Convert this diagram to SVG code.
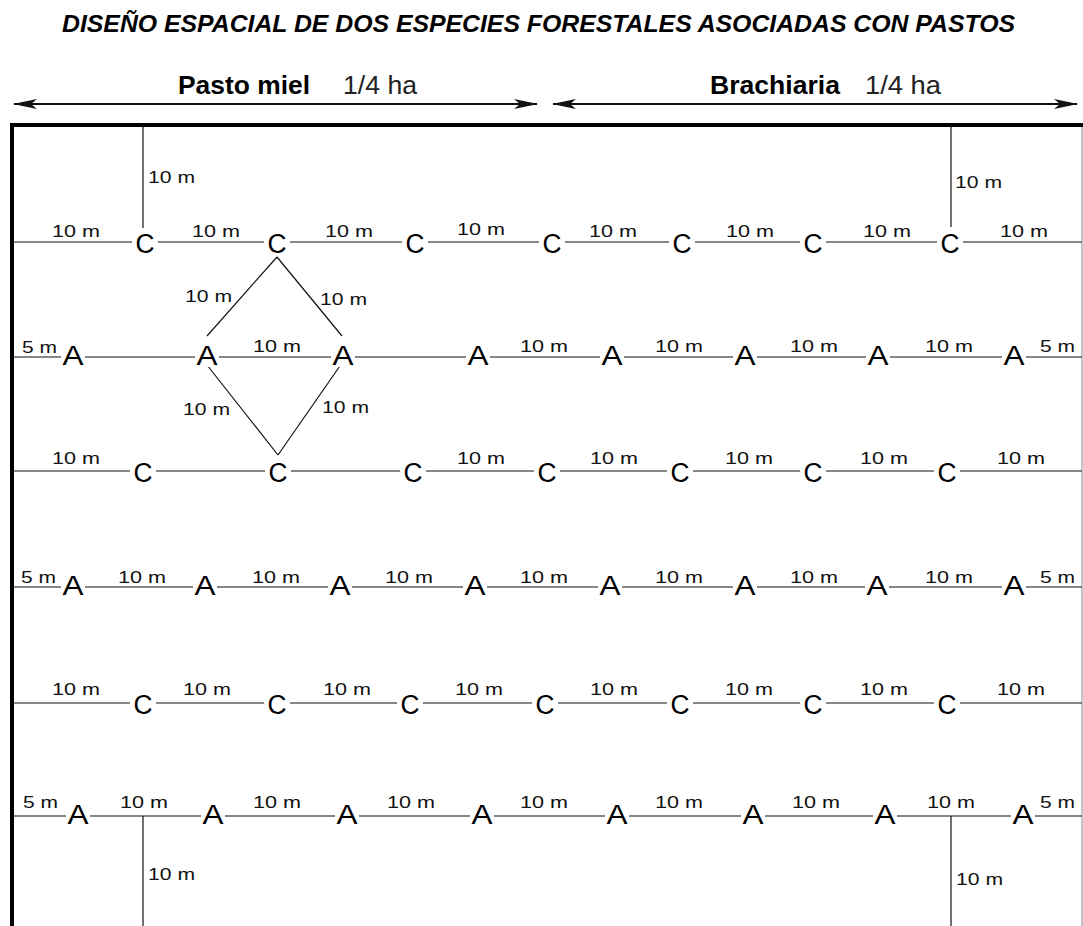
<svg xmlns="http://www.w3.org/2000/svg" width="1083" height="926" viewBox="0 0 1083 926">
<style>
.bg{fill:#fff}
.ln{stroke:#111;stroke-width:1.2;fill:none}
.frame{stroke:#000;stroke-width:4;fill:none}
.rb{stroke:#888;stroke-width:1;fill:none}
.arr{stroke:#111;stroke-width:2;fill:none}
.lbl{font-family:"Liberation Sans",Arial,sans-serif;font-size:16.5px;fill:#111}
.nd{font-family:"Liberation Sans",Arial,sans-serif;font-size:27px;fill:#000;text-anchor:middle}
.title{font-family:"Liberation Sans",Arial,sans-serif;font-size:23.5px;font-weight:bold;font-style:italic;fill:#000}
.hd{font-family:"Liberation Sans",Arial,sans-serif;font-size:25px;font-weight:bold;fill:#000}
.ha{font-family:"Liberation Sans",Arial,sans-serif;font-size:25px;fill:#222}
</style>
<defs>
<marker id="ah" viewBox="0 0 24 12" refX="23" refY="6" markerWidth="24" markerHeight="12" markerUnits="userSpaceOnUse" orient="auto-start-reverse">
<path d="M0,1 L24,6 L0,11 L6,6 Z" fill="#111"/>
</marker>
<rect id="cbg" x="-13" y="-10" width="26" height="20" fill="#fff"/>
<rect id="abg" x="-12" y="-12" width="24" height="22" fill="#fff"/>
</defs>
<rect class="bg" x="0" y="0" width="1083" height="926"/>
<g id="title">
<text class="title" x="62" y="32" textLength="953" lengthAdjust="spacingAndGlyphs">DISEÑO ESPACIAL DE DOS ESPECIES FORESTALES ASOCIADAS CON PASTOS</text>
</g>
<g id="header">
<text class="hd" x="178" y="94" textLength="132" lengthAdjust="spacingAndGlyphs">Pasto miel</text>
<text class="ha" x="343" y="94" textLength="74" lengthAdjust="spacingAndGlyphs">1/4 ha</text>
<text class="hd" x="710" y="94" textLength="130" lengthAdjust="spacingAndGlyphs">Brachiaria</text>
<text class="ha" x="865" y="94" textLength="76" lengthAdjust="spacingAndGlyphs">1/4 ha</text>
<line class="arr" x1="14" y1="104" x2="537" y2="104" marker-start="url(#ah)" marker-end="url(#ah)"/>
<line class="arr" x1="553" y1="104" x2="1077" y2="104" marker-start="url(#ah)" marker-end="url(#ah)"/>
</g>
<g id="frame">
<line class="rb" x1="1082" y1="125" x2="1082" y2="926"/>
<line class="frame" x1="10" y1="125" x2="1083" y2="125"/>
<line class="frame" x1="12" y1="123" x2="12" y2="926"/>
</g>
<g id="connectors">
<line class="ln" x1="14" y1="242" x2="1082" y2="242"/>
<line class="ln" x1="14" y1="357" x2="1082" y2="357"/>
<line class="ln" x1="14" y1="471" x2="1082" y2="471"/>
<line class="ln" x1="14" y1="587" x2="1082" y2="587"/>
<line class="ln" x1="14" y1="703" x2="1082" y2="703"/>
<line class="ln" x1="14" y1="816" x2="1082" y2="816"/>
<line class="ln" x1="143" y1="127" x2="143" y2="228"/>
<line class="ln" x1="951" y1="127" x2="951" y2="227"/>
<line class="ln" x1="143" y1="816" x2="143" y2="926"/>
<line class="ln" x1="951" y1="816" x2="951" y2="926"/>
<line class="ln" x1="277" y1="257" x2="207" y2="336"/>
<line class="ln" x1="277" y1="257" x2="342" y2="336"/>
<line class="ln" x1="207" y1="365" x2="278" y2="455"/>
<line class="ln" x1="342" y1="363" x2="278" y2="455"/>
</g>
<g id="labels">
<text class="lbl" x="148" y="183" textLength="47" lengthAdjust="spacingAndGlyphs">10 m</text>
<text class="lbl" x="955" y="188" textLength="47" lengthAdjust="spacingAndGlyphs">10 m</text>
<text class="lbl" x="148" y="880" textLength="47" lengthAdjust="spacingAndGlyphs">10 m</text>
<text class="lbl" x="956" y="885" textLength="47" lengthAdjust="spacingAndGlyphs">10 m</text>
<text class="lbl" x="185" y="302" textLength="47" lengthAdjust="spacingAndGlyphs">10 m</text>
<text class="lbl" x="320" y="305" textLength="47" lengthAdjust="spacingAndGlyphs">10 m</text>
<text class="lbl" x="183" y="415" textLength="47" lengthAdjust="spacingAndGlyphs">10 m</text>
<text class="lbl" x="322" y="413" textLength="47" lengthAdjust="spacingAndGlyphs">10 m</text>
<text class="lbl" x="52" y="237" textLength="48" lengthAdjust="spacingAndGlyphs">10 m</text>
<text class="lbl" x="192" y="237" textLength="48" lengthAdjust="spacingAndGlyphs">10 m</text>
<text class="lbl" x="325" y="237" textLength="48" lengthAdjust="spacingAndGlyphs">10 m</text>
<text class="lbl" x="457" y="235" textLength="48" lengthAdjust="spacingAndGlyphs">10 m</text>
<text class="lbl" x="589" y="237" textLength="48" lengthAdjust="spacingAndGlyphs">10 m</text>
<text class="lbl" x="726" y="237" textLength="48" lengthAdjust="spacingAndGlyphs">10 m</text>
<text class="lbl" x="863" y="237" textLength="48" lengthAdjust="spacingAndGlyphs">10 m</text>
<text class="lbl" x="1000" y="237" textLength="48" lengthAdjust="spacingAndGlyphs">10 m</text>
<text class="lbl" x="22" y="353" textLength="35" lengthAdjust="spacingAndGlyphs">5 m</text>
<text class="lbl" x="253" y="352" textLength="48" lengthAdjust="spacingAndGlyphs">10 m</text>
<text class="lbl" x="520" y="352" textLength="48" lengthAdjust="spacingAndGlyphs">10 m</text>
<text class="lbl" x="655" y="352" textLength="48" lengthAdjust="spacingAndGlyphs">10 m</text>
<text class="lbl" x="790" y="352" textLength="48" lengthAdjust="spacingAndGlyphs">10 m</text>
<text class="lbl" x="925" y="352" textLength="48" lengthAdjust="spacingAndGlyphs">10 m</text>
<text class="lbl" x="1040" y="352" textLength="35" lengthAdjust="spacingAndGlyphs">5 m</text>
<text class="lbl" x="52" y="464" textLength="48" lengthAdjust="spacingAndGlyphs">10 m</text>
<text class="lbl" x="457" y="464" textLength="48" lengthAdjust="spacingAndGlyphs">10 m</text>
<text class="lbl" x="590" y="464" textLength="48" lengthAdjust="spacingAndGlyphs">10 m</text>
<text class="lbl" x="725" y="464" textLength="48" lengthAdjust="spacingAndGlyphs">10 m</text>
<text class="lbl" x="860" y="464" textLength="48" lengthAdjust="spacingAndGlyphs">10 m</text>
<text class="lbl" x="997" y="464" textLength="48" lengthAdjust="spacingAndGlyphs">10 m</text>
<text class="lbl" x="21" y="583" textLength="35" lengthAdjust="spacingAndGlyphs">5 m</text>
<text class="lbl" x="118" y="583" textLength="48" lengthAdjust="spacingAndGlyphs">10 m</text>
<text class="lbl" x="252" y="583" textLength="48" lengthAdjust="spacingAndGlyphs">10 m</text>
<text class="lbl" x="385" y="583" textLength="48" lengthAdjust="spacingAndGlyphs">10 m</text>
<text class="lbl" x="520" y="583" textLength="48" lengthAdjust="spacingAndGlyphs">10 m</text>
<text class="lbl" x="655" y="583" textLength="48" lengthAdjust="spacingAndGlyphs">10 m</text>
<text class="lbl" x="790" y="583" textLength="48" lengthAdjust="spacingAndGlyphs">10 m</text>
<text class="lbl" x="925" y="583" textLength="48" lengthAdjust="spacingAndGlyphs">10 m</text>
<text class="lbl" x="1040" y="583" textLength="35" lengthAdjust="spacingAndGlyphs">5 m</text>
<text class="lbl" x="52" y="695" textLength="48" lengthAdjust="spacingAndGlyphs">10 m</text>
<text class="lbl" x="183" y="695" textLength="48" lengthAdjust="spacingAndGlyphs">10 m</text>
<text class="lbl" x="323" y="695" textLength="48" lengthAdjust="spacingAndGlyphs">10 m</text>
<text class="lbl" x="455" y="695" textLength="48" lengthAdjust="spacingAndGlyphs">10 m</text>
<text class="lbl" x="590" y="695" textLength="48" lengthAdjust="spacingAndGlyphs">10 m</text>
<text class="lbl" x="725" y="695" textLength="48" lengthAdjust="spacingAndGlyphs">10 m</text>
<text class="lbl" x="860" y="695" textLength="48" lengthAdjust="spacingAndGlyphs">10 m</text>
<text class="lbl" x="997" y="695" textLength="48" lengthAdjust="spacingAndGlyphs">10 m</text>
<text class="lbl" x="23" y="808" textLength="35" lengthAdjust="spacingAndGlyphs">5 m</text>
<text class="lbl" x="120" y="808" textLength="48" lengthAdjust="spacingAndGlyphs">10 m</text>
<text class="lbl" x="253" y="808" textLength="48" lengthAdjust="spacingAndGlyphs">10 m</text>
<text class="lbl" x="387" y="808" textLength="48" lengthAdjust="spacingAndGlyphs">10 m</text>
<text class="lbl" x="520" y="808" textLength="48" lengthAdjust="spacingAndGlyphs">10 m</text>
<text class="lbl" x="655" y="808" textLength="48" lengthAdjust="spacingAndGlyphs">10 m</text>
<text class="lbl" x="792" y="808" textLength="48" lengthAdjust="spacingAndGlyphs">10 m</text>
<text class="lbl" x="927" y="808" textLength="48" lengthAdjust="spacingAndGlyphs">10 m</text>
<text class="lbl" x="1040" y="808" textLength="35" lengthAdjust="spacingAndGlyphs">5 m</text>
</g>
<g id="nodes">
<g id="r1c1" transform="translate(145,242)"><use href="#cbg"/><text class="nd" y="11" textLength="19" lengthAdjust="spacingAndGlyphs">C</text></g>
<g id="r1c2" transform="translate(277,242)"><use href="#cbg"/><text class="nd" y="11" textLength="19" lengthAdjust="spacingAndGlyphs">C</text></g>
<g id="r1c3" transform="translate(415,242)"><use href="#cbg"/><text class="nd" y="11" textLength="19" lengthAdjust="spacingAndGlyphs">C</text></g>
<g id="r1c4" transform="translate(552,242)"><use href="#cbg"/><text class="nd" y="11" textLength="19" lengthAdjust="spacingAndGlyphs">C</text></g>
<g id="r1c5" transform="translate(682,242)"><use href="#cbg"/><text class="nd" y="11" textLength="19" lengthAdjust="spacingAndGlyphs">C</text></g>
<g id="r1c6" transform="translate(813,242)"><use href="#cbg"/><text class="nd" y="11" textLength="19" lengthAdjust="spacingAndGlyphs">C</text></g>
<g id="r1c7" transform="translate(950,242)"><use href="#cbg"/><text class="nd" y="11" textLength="19" lengthAdjust="spacingAndGlyphs">C</text></g>

<g id="r2a1" transform="translate(73,357)"><use href="#abg"/><text class="nd" y="8" textLength="21" lengthAdjust="spacingAndGlyphs">A</text></g>
<g id="r2a2" transform="translate(207,357)"><use href="#abg"/><text class="nd" y="8" textLength="21" lengthAdjust="spacingAndGlyphs">A</text></g>
<g id="r2a3" transform="translate(343,357)"><use href="#abg"/><text class="nd" y="8" textLength="21" lengthAdjust="spacingAndGlyphs">A</text></g>
<g id="r2a4" transform="translate(478,357)"><use href="#abg"/><text class="nd" y="8" textLength="21" lengthAdjust="spacingAndGlyphs">A</text></g>
<g id="r2a5" transform="translate(612,357)"><use href="#abg"/><text class="nd" y="8" textLength="21" lengthAdjust="spacingAndGlyphs">A</text></g>
<g id="r2a6" transform="translate(745,357)"><use href="#abg"/><text class="nd" y="8" textLength="21" lengthAdjust="spacingAndGlyphs">A</text></g>
<g id="r2a7" transform="translate(878,357)"><use href="#abg"/><text class="nd" y="8" textLength="21" lengthAdjust="spacingAndGlyphs">A</text></g>
<g id="r2a8" transform="translate(1014,357)"><use href="#abg"/><text class="nd" y="8" textLength="21" lengthAdjust="spacingAndGlyphs">A</text></g>

<g id="r3c1" transform="translate(143,471)"><use href="#cbg"/><text class="nd" y="11" textLength="19" lengthAdjust="spacingAndGlyphs">C</text></g>
<g id="r3c2" transform="translate(278,471)"><use href="#cbg"/><text class="nd" y="11" textLength="19" lengthAdjust="spacingAndGlyphs">C</text></g>
<g id="r3c3" transform="translate(413,471)"><use href="#cbg"/><text class="nd" y="11" textLength="19" lengthAdjust="spacingAndGlyphs">C</text></g>
<g id="r3c4" transform="translate(547,471)"><use href="#cbg"/><text class="nd" y="11" textLength="19" lengthAdjust="spacingAndGlyphs">C</text></g>
<g id="r3c5" transform="translate(680,471)"><use href="#cbg"/><text class="nd" y="11" textLength="19" lengthAdjust="spacingAndGlyphs">C</text></g>
<g id="r3c6" transform="translate(813,471)"><use href="#cbg"/><text class="nd" y="11" textLength="19" lengthAdjust="spacingAndGlyphs">C</text></g>
<g id="r3c7" transform="translate(947,471)"><use href="#cbg"/><text class="nd" y="11" textLength="19" lengthAdjust="spacingAndGlyphs">C</text></g>

<g id="r4a1" transform="translate(73,587)"><use href="#abg"/><text class="nd" y="8" textLength="21" lengthAdjust="spacingAndGlyphs">A</text></g>
<g id="r4a2" transform="translate(205,587)"><use href="#abg"/><text class="nd" y="8" textLength="21" lengthAdjust="spacingAndGlyphs">A</text></g>
<g id="r4a3" transform="translate(340,587)"><use href="#abg"/><text class="nd" y="8" textLength="21" lengthAdjust="spacingAndGlyphs">A</text></g>
<g id="r4a4" transform="translate(475,587)"><use href="#abg"/><text class="nd" y="8" textLength="21" lengthAdjust="spacingAndGlyphs">A</text></g>
<g id="r4a5" transform="translate(610,587)"><use href="#abg"/><text class="nd" y="8" textLength="21" lengthAdjust="spacingAndGlyphs">A</text></g>
<g id="r4a6" transform="translate(745,587)"><use href="#abg"/><text class="nd" y="8" textLength="21" lengthAdjust="spacingAndGlyphs">A</text></g>
<g id="r4a7" transform="translate(877,587)"><use href="#abg"/><text class="nd" y="8" textLength="21" lengthAdjust="spacingAndGlyphs">A</text></g>
<g id="r4a8" transform="translate(1014,587)"><use href="#abg"/><text class="nd" y="8" textLength="21" lengthAdjust="spacingAndGlyphs">A</text></g>

<g id="r5c1" transform="translate(143,703)"><use href="#cbg"/><text class="nd" y="11" textLength="19" lengthAdjust="spacingAndGlyphs">C</text></g>
<g id="r5c2" transform="translate(277,703)"><use href="#cbg"/><text class="nd" y="11" textLength="19" lengthAdjust="spacingAndGlyphs">C</text></g>
<g id="r5c3" transform="translate(410,703)"><use href="#cbg"/><text class="nd" y="11" textLength="19" lengthAdjust="spacingAndGlyphs">C</text></g>
<g id="r5c4" transform="translate(545,703)"><use href="#cbg"/><text class="nd" y="11" textLength="19" lengthAdjust="spacingAndGlyphs">C</text></g>
<g id="r5c5" transform="translate(680,703)"><use href="#cbg"/><text class="nd" y="11" textLength="19" lengthAdjust="spacingAndGlyphs">C</text></g>
<g id="r5c6" transform="translate(813,703)"><use href="#cbg"/><text class="nd" y="11" textLength="19" lengthAdjust="spacingAndGlyphs">C</text></g>
<g id="r5c7" transform="translate(947,703)"><use href="#cbg"/><text class="nd" y="11" textLength="19" lengthAdjust="spacingAndGlyphs">C</text></g>

<g id="r6a1" transform="translate(78,816)"><use href="#abg"/><text class="nd" y="8" textLength="21" lengthAdjust="spacingAndGlyphs">A</text></g>
<g id="r6a2" transform="translate(213,816)"><use href="#abg"/><text class="nd" y="8" textLength="21" lengthAdjust="spacingAndGlyphs">A</text></g>
<g id="r6a3" transform="translate(347,816)"><use href="#abg"/><text class="nd" y="8" textLength="21" lengthAdjust="spacingAndGlyphs">A</text></g>
<g id="r6a4" transform="translate(482,816)"><use href="#abg"/><text class="nd" y="8" textLength="21" lengthAdjust="spacingAndGlyphs">A</text></g>
<g id="r6a5" transform="translate(617,816)"><use href="#abg"/><text class="nd" y="8" textLength="21" lengthAdjust="spacingAndGlyphs">A</text></g>
<g id="r6a6" transform="translate(753,816)"><use href="#abg"/><text class="nd" y="8" textLength="21" lengthAdjust="spacingAndGlyphs">A</text></g>
<g id="r6a7" transform="translate(885,816)"><use href="#abg"/><text class="nd" y="8" textLength="21" lengthAdjust="spacingAndGlyphs">A</text></g>
<g id="r6a8" transform="translate(1023,816)"><use href="#abg"/><text class="nd" y="8" textLength="21" lengthAdjust="spacingAndGlyphs">A</text></g>
</g>
</svg>
